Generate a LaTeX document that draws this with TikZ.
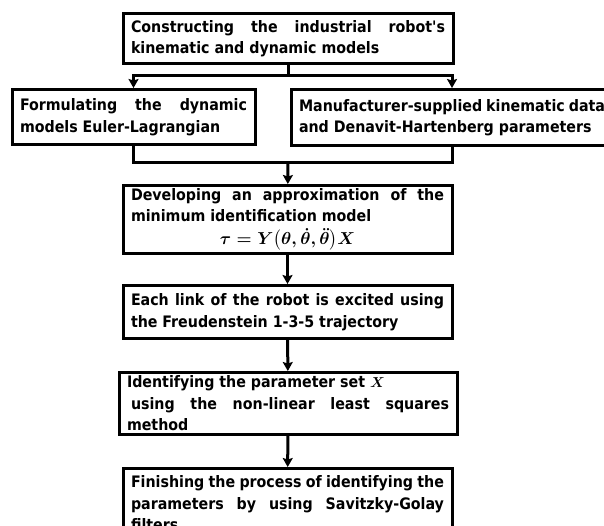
\documentclass[tikz,border=0pt]{standalone}
\usepackage{amsmath,amssymb}
\usepackage{bm}
\usepackage{fontspec}
\setmainfont{DejaVu Sans Condensed}
\usepackage{tikz}
\usetikzlibrary{arrows.meta}
\tikzset{blk/.style={rectangle,draw,line width=3pt,anchor=north,align=justify,inner xsep=8pt,inner ysep=2pt,font=\fontsize{15.8}{21.5}\selectfont\bfseries\boldmath}}

\begin{document}
\begin{tikzpicture}[>={Stealth[length=9pt,width=10pt,inset=1.5pt]},x=1pt,y=-1pt,line width=3pt]
    \useasboundingbox (0,0) rectangle (604,526);
    \node[blk,text width=314pt,minimum height=50pt] (a)at (288,12) {Constructing the industrial robot\textquotesingle s\linebreak kinematic and dynamic models};
    \node[blk,text width=227pt,minimum height=55pt] (b)at (133.5,88) {Formulating the dynamic\linebreak models Euler-Lagrangian};
    \node[blk,text width=306pt,minimum height=56pt] (c)at (452,88) {Manufacturer-supplied kinematic data\linebreak and Denavit-Hartenberg parameters};
    \node[blk,text width=313pt,minimum height=68pt] (d)at (287.5,184) {Developing an approximation of the\linebreak minimum identification model\par\vspace{1pt}\centerline{\fontsize{17}{21.5}\selectfont$\bm{\tau=Y\bigl(\theta,\dot{\theta},\ddot{\theta}\bigr)X}$}};
    \node[blk,text width=313pt,minimum height=53pt] (e)at (287.5,284) {Each link of the robot is excited using\linebreak the Freudenstein 1-3-5 trajectory};
    \node[blk,text width=322pt,minimum height=62pt] (f)at (288,371) {Identifying the parameter set $\bm{X}$\\\hspace*{4pt}using the non-linear least squares\linebreak method};
    \node[blk,text width=313pt,minimum height=70pt] (g)at (287.5,467) {Finishing the process of identifying the\linebreak parameters by using Savitzky-Golay\linebreak filters};

    \coordinate (j1) at (288,76);
    \coordinate (j2) at (288,163);

    \draw [] (a) -- (j1);
    \draw [->] (j1) -| (b);
    \draw [->] (j1) -| (c);
    \draw [] (b) |- (j2);
    \draw [] (c) |- (j2);
    \draw [->] (j2) -- (d);
    \draw [->] (d) -- (e);
    \draw [->] (e) -- (f);
    \draw [->] (f) -- (g);
\end{tikzpicture}
\end{document}
